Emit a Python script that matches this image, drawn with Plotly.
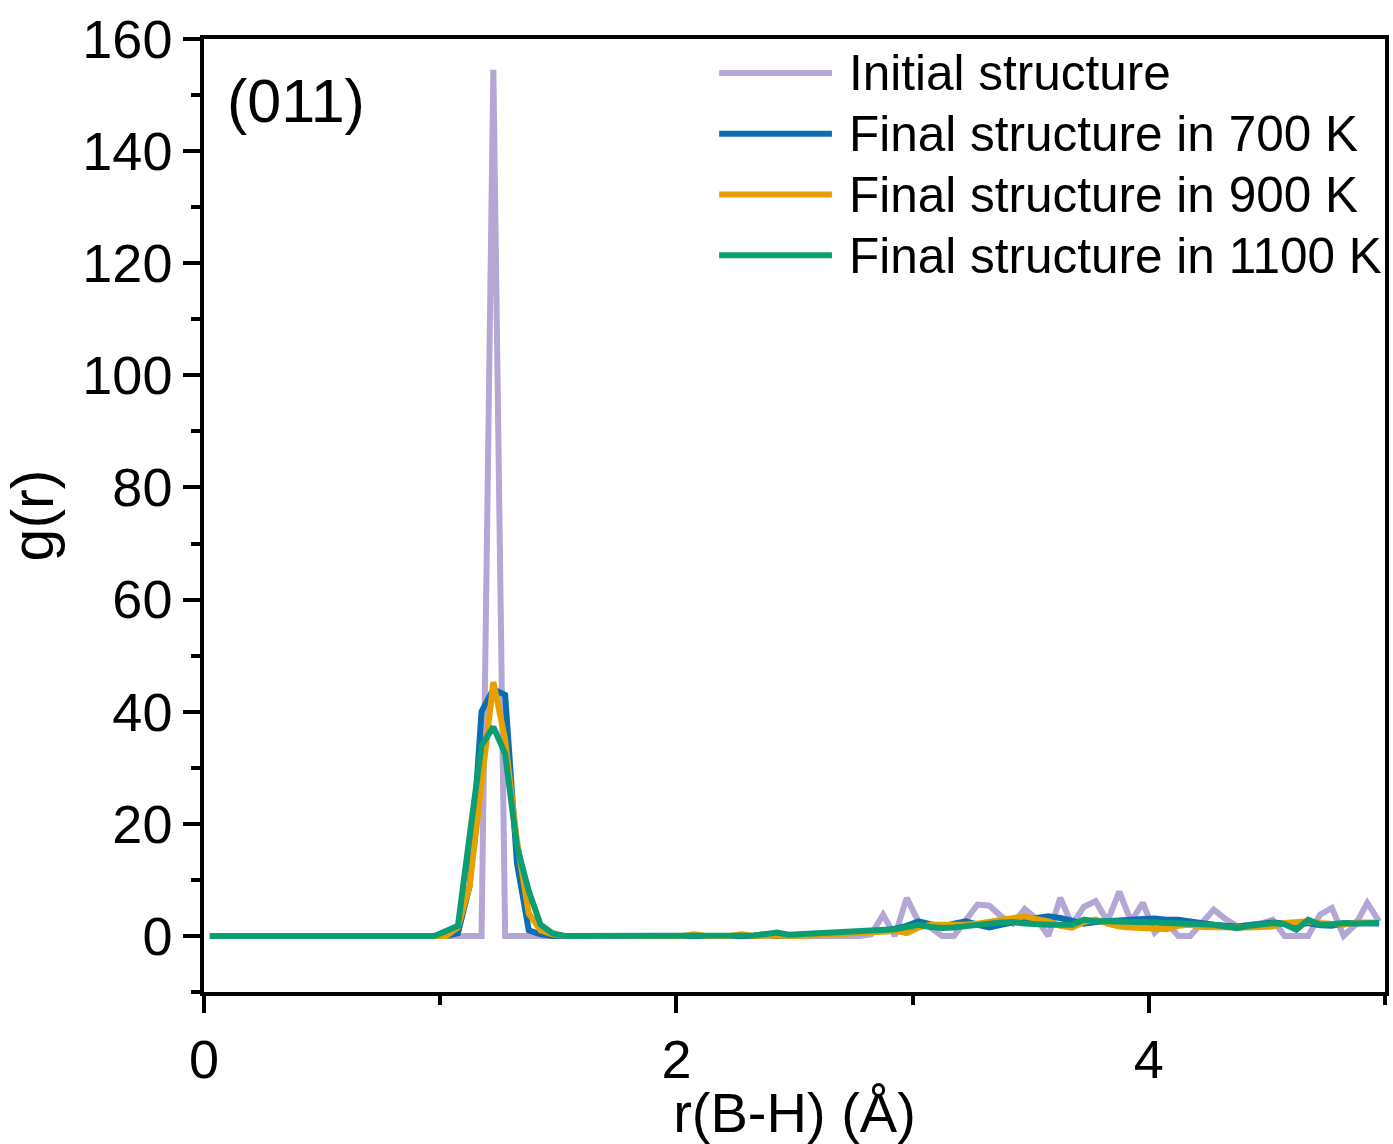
import plotly.graph_objects as go

# bin centres r (Angstrom)
r = [0.025, 0.075, 0.125, 0.175, 0.225, 0.275, 0.325, 0.375, 0.425, 0.475,
     0.525, 0.575, 0.625, 0.675, 0.725, 0.775, 0.825, 0.875, 0.925, 0.975,
     1.025, 1.075, 1.125, 1.175, 1.225, 1.275, 1.325, 1.375, 1.425, 1.475,
     1.525, 1.575, 1.625, 1.675, 1.725, 1.775, 1.825, 1.875, 1.925, 1.975,
     2.025, 2.075, 2.125, 2.175, 2.225, 2.275, 2.325, 2.375, 2.425, 2.475,
     2.525, 2.575, 2.625, 2.675, 2.725, 2.775, 2.825, 2.875, 2.925, 2.975,
     3.025, 3.075, 3.125, 3.175, 3.225, 3.275, 3.325, 3.375, 3.425, 3.475,
     3.525, 3.575, 3.625, 3.675, 3.725, 3.775, 3.825, 3.875, 3.925, 3.975,
     4.025, 4.075, 4.125, 4.175, 4.225, 4.275, 4.325, 4.375, 4.425, 4.475,
     4.525, 4.575, 4.625, 4.675, 4.725, 4.775, 4.825, 4.875, 4.925, 4.975]

g_initial = [0]*24 + [154.5] + [0]*31 + [
    0.3, 3.8, 0.0, 6.8,                       # 2.825 - 2.975
    2.5, 1.5, 0.0, 0.0, 2.8, 5.6, 5.4, 3.5, 2.2, 4.8,   # 3.025 - 3.475
    3.0, 0.0, 6.8, 2.0, 5.2, 6.2, 2.6, 7.9, 2.6, 5.9,   # 3.525 - 3.975
    0.6, 2.4, 0.0, 0.0, 2.3, 4.7, 3.0, 1.7, 2.0, 2.2,   # 4.025 - 4.475
    2.9, 0.0, 0.0, 0.0, 3.8, 5.0, 0.0, 2.0, 5.9, 2.6]   # 4.525 - 4.975

g_700 = [0]*21 + [
    0.5, 9.0, 40.0, 44.0, 43.0, 13.0, 1.0, 0.3,         # 1.075 - 1.425
    0, 0, 0, 0, 0, 0, 0, 0, 0, 0, 0,                    # 1.475 - 1.975
    0, 0, 0, 0, 0, 0, 0, 0.3, 0.0, 0.1,                 # 2.025 - 2.475
    0.2, 0.2, 0.3, 0.4, 0.5, 0.6, 0.7, 0.9, 1.3, 1.8,   # 2.525 - 2.975
    2.6, 2.0, 1.6, 2.2, 2.6, 2.0, 1.5, 2.0, 2.5, 2.8,   # 3.025 - 3.475
    3.2, 3.5, 3.2, 2.6, 2.2, 2.5, 2.7, 2.8, 2.9, 3.0,   # 3.525 - 3.975
    3.1, 2.9, 2.9, 2.6, 2.2, 2.0, 1.8, 1.7, 1.9, 2.1,   # 4.025 - 4.475
    2.4, 2.2, 2.0, 2.3, 1.9, 1.8, 2.2, 2.3, 2.2, 2.2]   # 4.525 - 4.975

g_900 = [0]*21 + [
    1.5, 9.0, 27.0, 45.3, 35.0, 17.0, 4.0, 1.0,         # 1.075 - 1.425
    0.3, 0, 0, 0, 0, 0, 0, 0, 0, 0, 0,                  # 1.475 - 1.975
    0, 0.3, 0, 0, 0, 0.3, 0, 0.1, 0.0, 0.0,             # 2.025 - 2.475
    0.0, 0.1, 0.2, 0.3, 0.4, 0.5, 0.6, 0.8, 0.9, 0.5,   # 2.525 - 2.975
    1.5, 2.0, 2.0, 1.8, 2.0, 2.2, 2.5, 2.8, 3.2, 3.5,   # 3.025 - 3.475
    3.0, 2.6, 1.8, 1.5, 2.5, 2.9, 2.2, 1.7, 1.5, 1.4,   # 3.525 - 3.975
    1.2, 1.2, 1.8, 2.0, 1.6, 1.5, 1.6, 1.5, 1.5, 1.6,   # 4.025 - 4.475
    1.7, 2.3, 2.5, 2.6, 2.3, 2.2, 2.0, 2.4, 2.5, 2.4]   # 4.525 - 4.975

g_1100 = [0]*20 + [
    0.9, 1.8, 18.0, 34.0, 37.3, 32.5, 16.0, 8.0, 2.0,   # 1.025 - 1.425
    0.5, 0, 0, 0, 0, 0, 0, 0, 0, 0, 0,                  # 1.475 - 1.975
    0, 0, 0, 0, 0, 0, 0.1, 0.3, 0.6, 0.2,               # 2.025 - 2.475
    0.3, 0.3, 0.4, 0.5, 0.6, 0.7, 0.8, 0.9, 1.2, 1.6,   # 2.525 - 2.975
    2.0, 1.6, 1.4, 1.5, 1.8, 2.0, 2.2, 2.4, 2.5, 2.2,   # 3.025 - 3.475
    2.0, 2.0, 2.0, 2.0, 2.9, 2.6, 2.6, 2.6, 2.5, 2.4,   # 3.525 - 3.975
    2.4, 2.3, 2.3, 2.2, 2.1, 2.0, 1.7, 1.4, 1.8, 2.0,   # 4.025 - 4.475
    2.3, 2.1, 1.1, 2.9, 2.0, 2.1, 2.3, 2.2, 2.3, 2.3]   # 4.525 - 4.975

names = ["Initial structure", "Final structure in 700 K",
         "Final structure in 900 K", "Final structure in 1100 K"]
colors = ["#B4A7D6", "#0A6EB0", "#E8A000", "#0B9E72"]
series = [g_initial, g_700, g_900, g_1100]

FONT = "Arial, Liberation Sans, sans-serif"

fig = go.Figure()
for name, col, ys in zip(names, colors, series):
    fig.add_trace(go.Scatter(x=r, y=ys, mode="lines", name=name,
                             line=dict(color=col, width=6),
                             showlegend=False))

# manual legend (long line samples as in the original)
leg_y = [0.9644, 0.9006, 0.8368, 0.7730]
shapes = []
annotations = []
for name, col, yy in zip(names, colors, leg_y):
    shapes.append(dict(type="line", xref="paper", yref="paper",
                       x0=0.4362, x1=0.5317, y0=yy, y1=yy,
                       line=dict(color=col, width=6)))
    annotations.append(dict(xref="paper", yref="paper", x=0.5444, y=yy,
                            text=name, showarrow=False, xanchor="left",
                            yanchor="middle",
                            font=dict(family=FONT, size=49.5, color="black")))
annotations.append(dict(xref="paper", yref="paper", x=0.018, y=0.935,
                        text="(011)", showarrow=False, xanchor="left",
                        yanchor="middle",
                        font=dict(family=FONT, size=61, color="black")))

axis_common = dict(showgrid=False, zeroline=False, showline=True,
                   linecolor="black", linewidth=3.5, mirror=True,
                   ticks="outside", ticklen=17, tickwidth=3.5,
                   tickcolor="black",
                   tickfont=dict(family=FONT, size=54, color="black"))

fig.update_layout(
    width=1393, height=1144,
    margin=dict(l=204, r=4, t=39, b=150),
    paper_bgcolor="white", plot_bgcolor="white",
    shapes=shapes, annotations=annotations,
    xaxis=dict(range=[0, 5], tickvals=[0, 2, 4],
               minor=dict(tickvals=[1, 3, 5], ticklen=9, tickwidth=3.5,
                          tickcolor="black", ticks="outside"),
               title=dict(text="r(B-H) (Å)", standoff=12,
                          font=dict(family=FONT, size=56, color="black")),
               **axis_common),
    yaxis=dict(range=[-10, 160], tickvals=[0, 20, 40, 60, 80, 100, 120, 140, 160],
               minor=dict(tickvals=[-10, 10, 30, 50, 70, 90, 110, 130, 150],
                          ticklen=9, tickwidth=3.5, tickcolor="black",
                          ticks="outside"),
               title=dict(text="g(r)", standoff=22,
                          font=dict(family=FONT, size=59, color="black")),
               **axis_common),
)

fig.write_html("out.html")
